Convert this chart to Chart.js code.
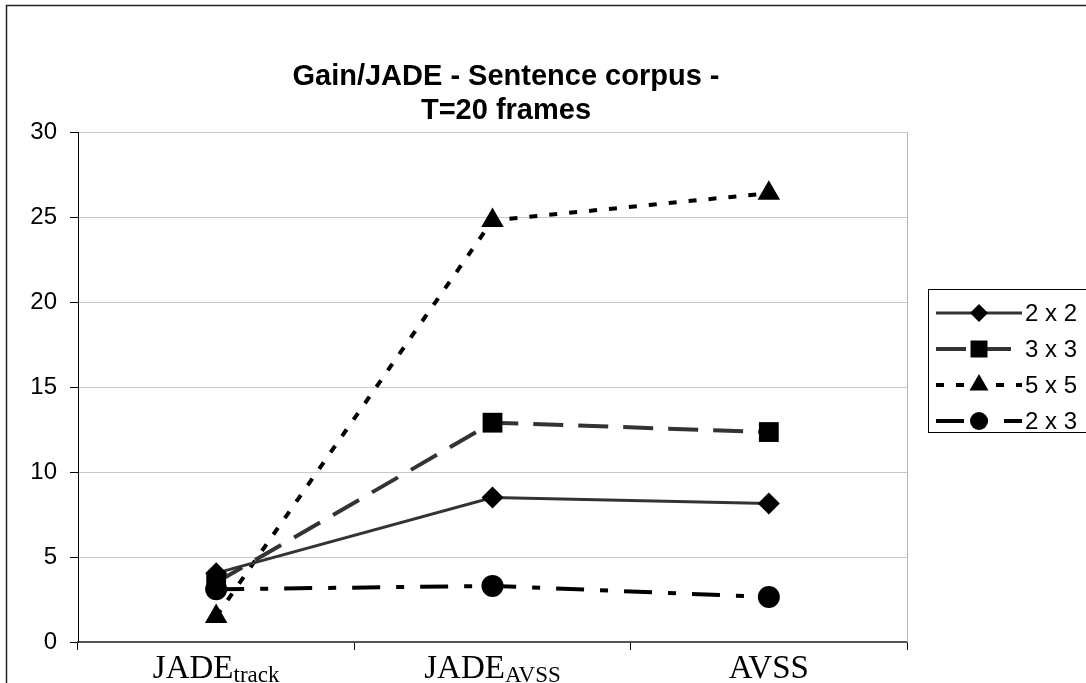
<!DOCTYPE html>
<html>
<head>
<meta charset="utf-8">
<script src="https://cdn.jsdelivr.net/npm/chart.js@4/dist/chart.umd.min.js"></script>
<style>
  html, body { margin: 0; padding: 0; background: #fff; }
  #wrap { width: 1086px; height: 683px; position: relative; }
</style>
</head>
<body>
<div id="wrap"><canvas id="gain-chart"></canvas></div>
<script>
// categories (main text + subscript)
const catMain = ['JADE', 'JADE', 'AVSS'];
const catSub = ['track', 'AVSS', ''];
const categories = ['JADE_track', 'JADE_AVSS', 'AVSS'];

// series
const seriesNames = ['2 x 2', '3 x 3', '5 x 5', '2 x 3'];
const s2x2 = [4.05, 8.5, 8.15];
const s3x3 = [3.5, 12.9, 12.35];
const s5x5 = [1.5, 24.8, 26.4];
const s2x3 = [3.1, 3.3, 2.65];

const yTicks = [0, 5, 10, 15, 20, 25, 30];

const title = ['Gain/JADE - Sentence corpus -', 'T=20 frames'];

/**
 * Dessine un marqueur de légende
 */
function drawMarker(ctx, style, x, y, r) {
    ctx.beginPath();
    if (style === 'rectRot') {
        ctx.moveTo(x, y - r);
        ctx.lineTo(x + r, y);
        ctx.lineTo(x, y + r);
        ctx.lineTo(x - r, y);
        ctx.closePath();
    } else if (style === 'rect') {
        const h = r * Math.SQRT1_2;
        ctx.rect(x - h, y - h, 2 * h, 2 * h);
    } else if (style === 'triangle') {
        const hw = r * Math.cos(Math.PI / 6);
        ctx.moveTo(x, y - r);
        ctx.lineTo(x + hw, y + r / 2);
        ctx.lineTo(x - hw, y + r / 2);
        ctx.closePath();
    } else {
        ctx.arc(x, y, r, 0, Math.PI * 2);
    }
    ctx.fill();
}

/**
 * Titre, bordure extérieure, libellés x avec indices, légende
 */
const decorPlugin = {
    id: 'decor',
    beforeDraw(chart) {
        const ctx = chart.ctx;
        ctx.save();
        ctx.fillStyle = '#fff';
        ctx.fillRect(0, 0, chart.width, chart.height);
        ctx.restore();
    },
    afterDraw(chart) {
        const ctx = chart.ctx;
        const area = chart.chartArea;
        ctx.save();

        // bordure du graphique (coupée à droite et en bas)
        ctx.strokeStyle = '#222';
        ctx.lineWidth = 1.5;
        ctx.strokeRect(6.5, 5.5, 2000, 2000);

        // bord droit de la zone de tracé
        ctx.strokeStyle = '#b4b4b4';
        ctx.lineWidth = 1;
        ctx.beginPath();
        ctx.moveTo(area.right + 0.5, area.top);
        ctx.lineTo(area.right + 0.5, area.bottom);
        ctx.stroke();

        // titre
        ctx.fillStyle = '#000';
        ctx.font = 'bold 29px Arial, "Liberation Sans", sans-serif';
        ctx.textAlign = 'center';
        ctx.textBaseline = 'alphabetic';
        ctx.fillText(title[0], 506, 85);
        ctx.fillText(title[1], 506, 119);

        // libellés de l'axe x (avec indices)
        const xScale = chart.scales.x;
        const mainFont = '33px "Times New Roman", "Liberation Serif", serif';
        const subFont = '23px "Times New Roman", "Liberation Serif", serif';
        categories.forEach((c, i) => {
            const cx = xScale.getPixelForValue(i);
            ctx.font = mainFont;
            const wMain = ctx.measureText(catMain[i]).width;
            ctx.font = subFont;
            const wSub = catSub[i] ? ctx.measureText(catSub[i]).width : 0;
            const x0 = cx - (wMain + wSub) / 2;
            ctx.textAlign = 'left';
            ctx.font = mainFont;
            ctx.fillText(catMain[i], x0, 678);
            if (catSub[i]) {
                ctx.font = subFont;
                ctx.fillText(catSub[i], x0 + wMain, 682);
            }
        });

        // légende
        ctx.strokeStyle = '#000';
        ctx.lineWidth = 1;
        ctx.strokeRect(928.5, 289.5, 300, 143);
        chart.data.datasets.forEach((ds, i) => {
            const y = 313 + i * 36;
            ctx.save();
            ctx.strokeStyle = ds.borderColor;
            ctx.lineWidth = ds.borderWidth;
            ctx.setLineDash(ds.borderDash || []);
            ctx.beginPath();
            ctx.moveTo(936, y);
            ctx.lineTo(1022, y);
            ctx.stroke();
            ctx.restore();
            ctx.fillStyle = '#000';
            drawMarker(ctx, ds.pointStyle, 979, y, ds.legendRadius);
            ctx.font = '24px Arial, "Liberation Sans", sans-serif';
            ctx.textAlign = 'left';
            ctx.textBaseline = 'middle';
            ctx.fillText(ds.label, 1025, y + 1);
        });

        ctx.restore();
    }
};

const ctx = document.getElementById('gain-chart');

new Chart(ctx, {
    type: 'line',
    data: {
        labels: categories,
        datasets: [{
            label: seriesNames[0],
            data: s2x2,
            borderColor: '#333333',
            borderWidth: 3,
            borderDash: [],
            pointStyle: 'rectRot',
            pointRadius: 11,
            legendRadius: 9,
            pointBackgroundColor: '#000',
            pointBorderWidth: 0
        }, {
            label: seriesNames[1],
            data: s3x3,
            borderColor: '#333333',
            borderWidth: 4,
            borderDash: [30, 15],
            pointStyle: 'rect',
            pointRadius: 14,
            legendRadius: 12,
            pointBackgroundColor: '#000',
            pointBorderWidth: 0
        }, {
            label: seriesNames[2],
            data: s5x5,
            borderColor: '#000',
            borderWidth: 4,
            borderDash: [8, 12],
            pointStyle: 'triangle',
            pointRadius: 13,
            legendRadius: 11,
            pointBackgroundColor: '#000',
            pointBorderWidth: 0
        }, {
            label: seriesNames[3],
            data: s2x3,
            borderColor: '#000',
            borderWidth: 4,
            borderDash: [28, 16, 8, 16],
            pointStyle: 'circle',
            pointRadius: 11,
            legendRadius: 9,
            pointBackgroundColor: '#000',
            pointBorderWidth: 0
        }]
    },
    options: {
        responsive: true,
        maintainAspectRatio: false,
        animation: false,
        layout: {
            padding: { top: 132, right: 179, left: 0, bottom: 0 }
        },
        plugins: {
            legend: { display: false },
            title: { display: false },
            tooltip: { enabled: false }
        },
        elements: {
            line: { tension: 0, fill: false }
        },
        scales: {
            x: {
                type: 'category',
                offset: true,
                afterFit(scale) { scale.height = 41; },
                grid: {
                    offset: true,
                    drawOnChartArea: false,
                    tickLength: 8,
                    tickColor: '#000'
                },
                border: { color: '#555', width: 2 },
                ticks: { display: false }
            },
            y: {
                min: 0,
                max: 30,
                afterFit(scale) { scale.width = 78; },
                afterBuildTicks(scale) {
                    scale.ticks = yTicks.map(v => ({ value: v }));
                },
                grid: {
                    color: '#c8c8c8',
                    lineWidth: 1,
                    tickLength: 8,
                    tickColor: '#000'
                },
                border: { color: '#000', width: 1 },
                ticks: {
                    color: '#000',
                    padding: 13,
                    font: { family: 'Arial, "Liberation Sans", sans-serif', size: 24 }
                }
            }
        }
    },
    plugins: [decorPlugin]
});
</script>
</body>
</html>
